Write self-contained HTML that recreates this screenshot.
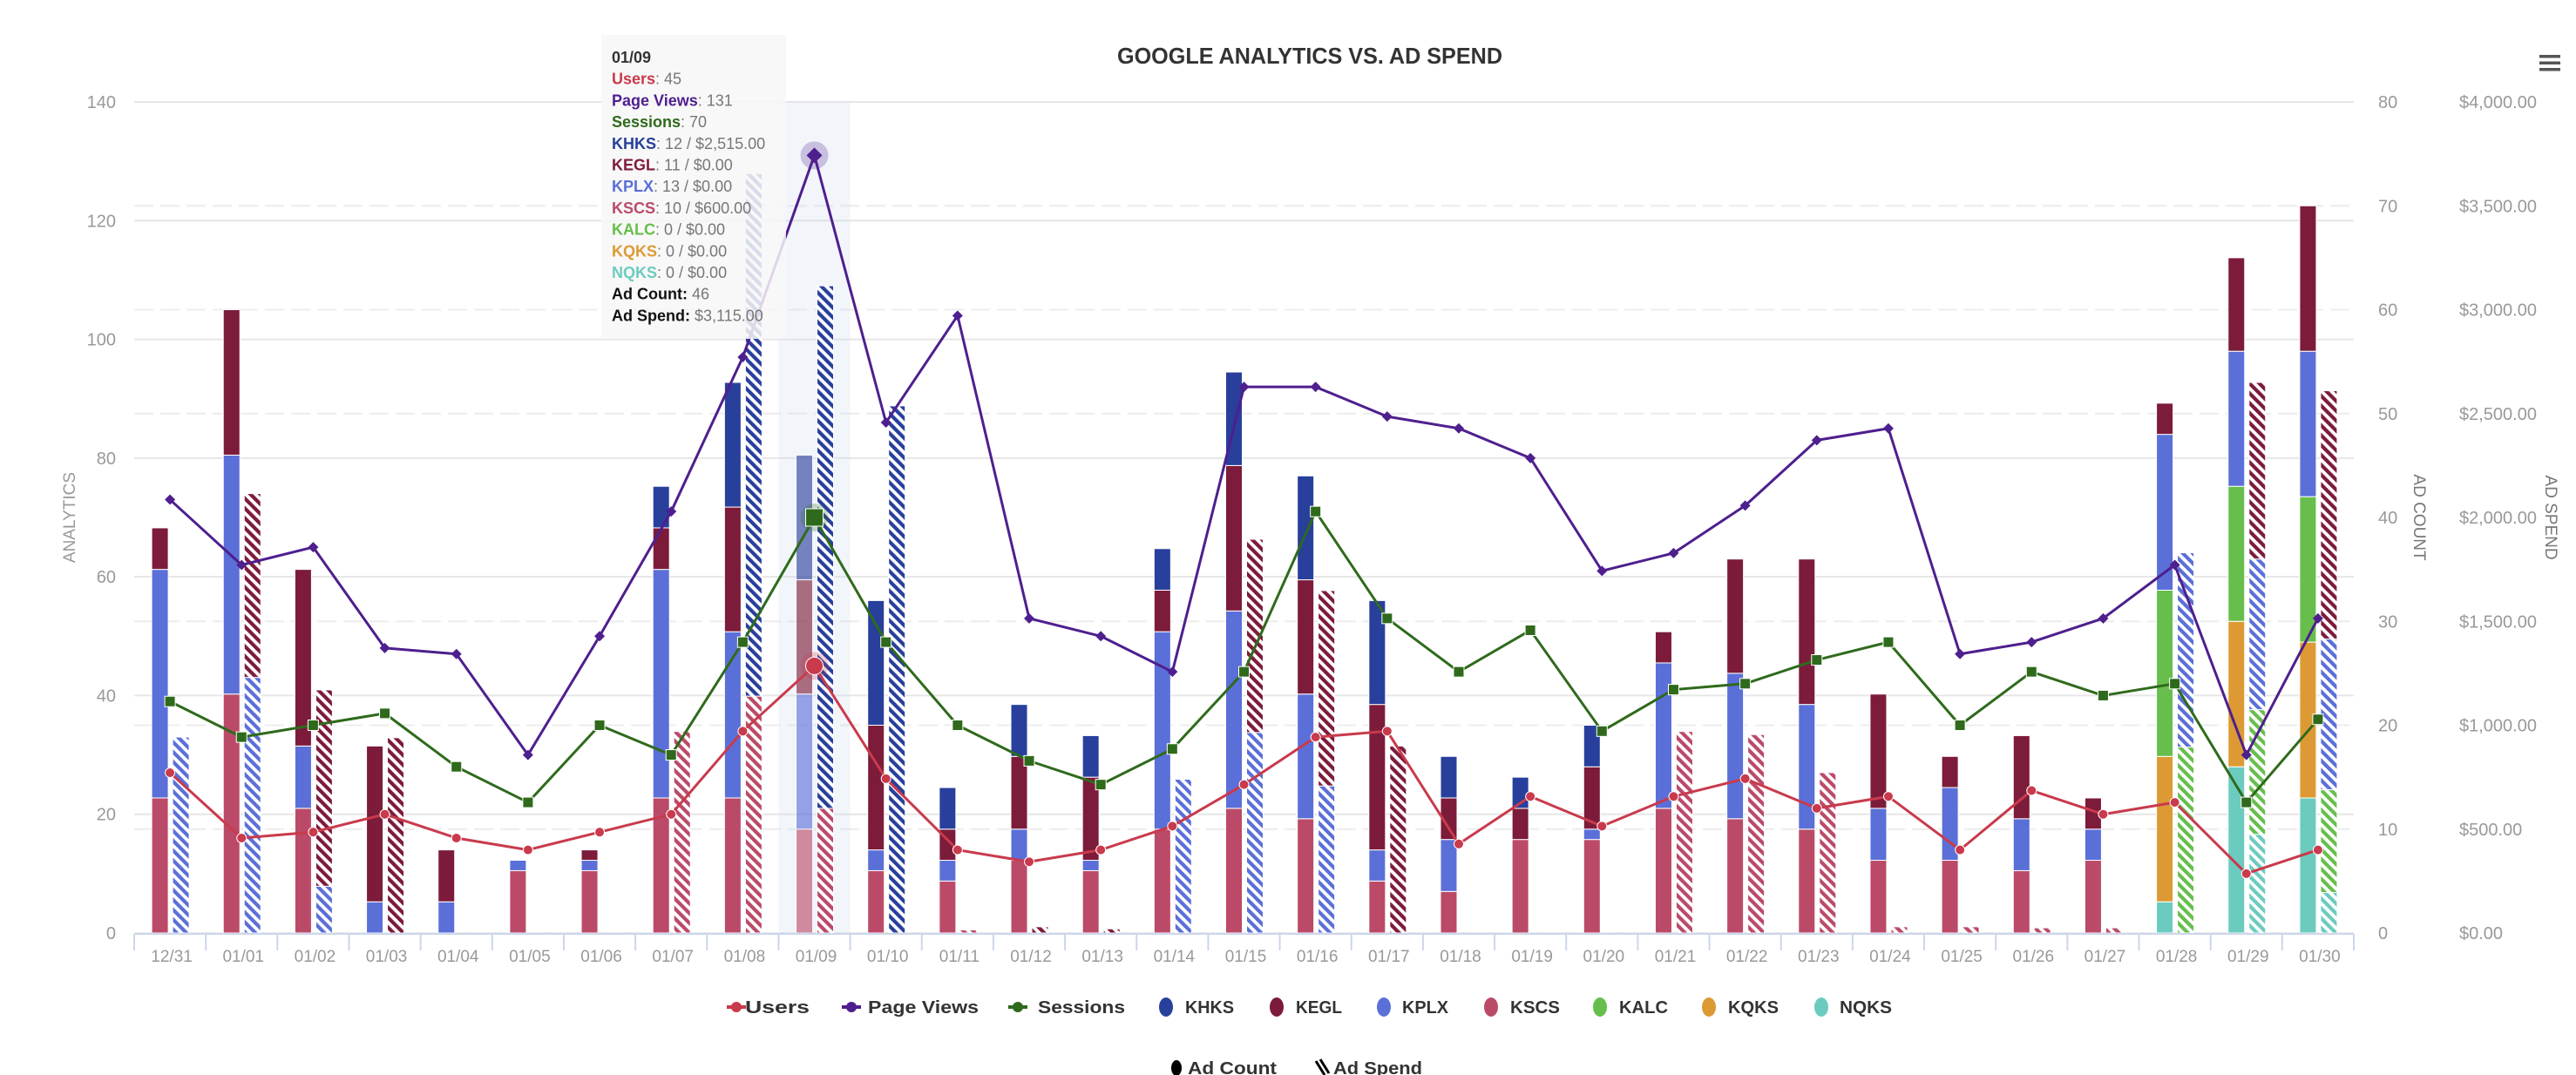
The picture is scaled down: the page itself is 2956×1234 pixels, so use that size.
<!DOCTYPE html>
<html><head><meta charset="utf-8"><title>Google Analytics vs. Ad Spend</title>
<style>
html,body{margin:0;padding:0;background:#fff;}
svg{display:block;font-family:"Liberation Sans",sans-serif;}
</style></head>
<body>
<svg id="chart" width="2956" height="1234" viewBox="0 0 2956 1234" xmlns="http://www.w3.org/2000/svg">
<defs id="defs"></defs>
<rect x="0" y="0" width="2956" height="1234" fill="#fff"/>
<text x="1503" y="73" text-anchor="middle" font-size="26" font-weight="bold" fill="#333" textLength="442" lengthAdjust="spacingAndGlyphs">GOOGLE ANALYTICS VS. AD SPEND</text>
<g fill="#555">
<rect x="2914" y="63" width="24" height="3.5"/><rect x="2914" y="70.5" width="24" height="3.5"/><rect x="2914" y="78" width="24" height="3.5"/>
</g>
<text transform="translate(86,594) rotate(-90)" text-anchor="middle" font-size="19" fill="#999">ANALYTICS</text>
<text transform="translate(2770,594) rotate(90)" text-anchor="middle" font-size="19" fill="#777">AD COUNT</text>
<text transform="translate(2921,594) rotate(90)" text-anchor="middle" font-size="19" fill="#777">AD SPEND</text>
<g id="grid"></g>
<g id="band"></g>
<g id="bars"></g>
<g id="lines"></g>
<g id="axes"></g>
<g id="legend"></g>
<g id="tooltip"></g>
</svg>
<script>
const categories = ['12/31','01/01','01/02','01/03','01/04','01/05','01/06','01/07','01/08','01/09','01/10','01/11','01/12','01/13','01/14','01/15','01/16','01/17','01/18','01/19','01/20','01/21','01/22','01/23','01/24','01/25','01/26','01/27','01/28','01/29','01/30'];
const users = [27,16,17,20,16,14,17,20,34,45,26,14,12,14,18,25,33,34,15,23,18,23,26,21,23,14,24,20,22,10,14];
const pageViews = [73,62,65,48,47,30,50,71,97,131,86,104,53,50,44,92,92,87,85,80,61,64,72,83,85,47,49,53,62,30,53];
const sessions = [39,33,35,37,28,22,35,30,49,70,49,35,29,25,31,44,71,53,44,51,34,41,42,46,49,35,44,40,42,22,36];
const countNQKS = [0,0,0,0,0,0,0,0,0,0,0,0,0,0,0,0,0,0,0,0,0,0,0,0,0,0,0,0,3,16,13];
const countKQKS = [0,0,0,0,0,0,0,0,0,0,0,0,0,0,0,0,0,0,0,0,0,0,0,0,0,0,0,0,14,14,15];
const countKALC = [0,0,0,0,0,0,0,0,0,0,0,0,0,0,0,0,0,0,0,0,0,0,0,0,0,0,0,0,16,13,14];
const countKSCS = [13,23,12,0,0,6,6,13,13,10,6,5,7,6,10,12,11,5,4,9,9,12,11,10,7,7,6,7,0,0,0];
const countKPLX = [22,23,6,3,3,1,1,22,16,13,2,2,3,1,19,19,12,3,5,0,1,14,14,12,5,7,5,3,15,13,14];
const countKEGL = [4,14,17,15,5,0,1,4,12,11,12,3,7,8,4,14,11,14,4,3,6,3,11,14,11,3,8,3,3,9,14];
const countKHKS = [0,0,0,0,0,0,0,4,12,12,12,4,5,4,4,9,10,10,4,3,4,0,0,0,0,0,0,0,0,0,0];
const spendNQKS = [0,0,0,0,0,0,0,0,0,0,0,0,0,0,0,0,0,0,0,0,0,0,0,0,0,0,0,0,0,475,195];
const spendKQKS = [0,0,0,0,0,0,0,0,0,0,0,0,0,0,0,0,0,0,0,0,0,0,0,0,0,0,0,0,0,0,0];
const spendKALC = [0,0,0,0,0,0,0,0,0,0,0,0,0,0,0,0,0,0,0,0,0,0,0,0,0,0,0,0,895,600,495];
const spendKSCS = [0,0,0,0,0,0,0,970,1140,600,0,15,0,0,0,0,0,0,0,0,0,970,955,772,30,30,25,25,0,0,0];
const spendKPLX = [943,1230,225,0,0,0,0,0,0,0,0,0,0,0,740,965,708,0,0,0,0,0,0,0,0,0,0,0,935,725,725];
const spendKEGL = [0,885,945,940,0,0,0,0,0,0,0,0,30,20,0,930,940,900,0,0,0,0,0,0,0,0,0,0,0,850,1195];
const spendKHKS = [0,0,0,0,0,0,0,0,2515,2515,2537,0,0,0,0,0,0,0,0,0,0,0,0,0,0,0,0,0,0,0,0];
const leftTicks = [0,20,40,60,80,100,120,140];
const countTicks = [0,10,20,30,40,50,60,70,80];
const spendTicks = ['$0.00','$500.00','$1,000.00','$1,500.00','$2,000.00','$2,500.00','$3,000.00','$3,500.00','$4,000.00'];

const NS='http://www.w3.org/2000/svg';
const PL=154, PR=2701, PT=117, PB=1071;
const step=(PR-PL)/categories.length;
function xC(i){return PL+step*(i+0.5);}
function yA(v){return PB-v*(PB-PT)/140;}
function yCnt(c){return yA(c*140/80);}
function ySp(s){return yA(s*140/4000);}
function mk(tag,attrs,parent){const e=document.createElementNS(NS,tag);for(const k in attrs)e.setAttribute(k,attrs[k]);if(parent)parent.appendChild(e);return e;}

const stations=[
 {name:'NQKS',color:'#6ccbbf',c:countNQKS,s:spendNQKS},
 {name:'KQKS',color:'#dd9a34',c:countKQKS,s:spendKQKS},
 {name:'KALC',color:'#67be4c',c:countKALC,s:spendKALC},
 {name:'KSCS',color:'#bb4a68',c:countKSCS,s:spendKSCS},
 {name:'KPLX',color:'#5b6fd8',c:countKPLX,s:spendKPLX},
 {name:'KEGL',color:'#7d1b3a',c:countKEGL,s:spendKEGL},
 {name:'KHKS',color:'#283f9c',c:countKHKS,s:spendKHKS}
];
const defs=document.getElementById('defs');
stations.forEach(st=>{
 const p=mk('pattern',{id:'hatch-'+st.name,patternUnits:'userSpaceOnUse',width:8,height:8,patternTransform:'rotate(-45)'},defs);
 mk('rect',{x:0,y:0,width:8,height:8,fill:'#fff'},p);
 mk('rect',{x:0,y:0,width:4.2,height:8,fill:st.color},p);
});

// grid
const grid=document.getElementById('grid');
leftTicks.forEach(v=>{
 const l=mk('line',{x1:PL,x2:PR,y1:yA(v),y2:yA(v),stroke:'#e6e6e6','stroke-width':2},grid);
 
 
});
countTicks.forEach(v=>{
 if(v%40===0&&v>0)return;
 const l=mk('line',{x1:PL,x2:PR,y1:yCnt(v),y2:yCnt(v),stroke:'#ececec','stroke-width':2,'stroke-dasharray':'22,8'},grid);
 
 
});

// hover band
const hb=mk('rect',{x:PL+step*9,y:PT,width:step,height:PB-PT,fill:'#ccd6eb','fill-opacity':0.25},document.getElementById('band'));



// bars
const bars=document.getElementById('bars');
const BW=19;
categories.forEach((cat,i)=>{
 let base=0, sbase=0;
 const xc=xC(i);
 stations.forEach(st=>{
  const v=st.c[i];
  if(v>0){
   const y1=yCnt(base+v), y0=yCnt(base);
   const r=mk('rect',{x:xc-21,y:y1,width:BW,height:y0-y1,fill:st.color,stroke:'#fff','stroke-width':1,opacity:(i===9?0.62:1)},bars);
   
   
   base+=v;
  }
  const s=st.s[i];
  if(s>0){
   const y1=ySp(sbase+s), y0=ySp(sbase);
   const r=mk('rect',{x:xc+3,y:y1,width:BW,height:y0-y1,fill:'url(#hatch-'+st.name+')',stroke:'#fff','stroke-width':1},bars);
   
   
   sbase+=s;
  }
 });
});

// lines
const lines=document.getElementById('lines');
function series(vals,color,shape,name){
 const pts=vals.map((v,i)=>[xC(i),yA(v)]);
 const pl=mk('polyline',{points:pts.map(p=>p.join(',')).join(' '),fill:'none',stroke:color,'stroke-width':3,'stroke-linejoin':'round'},lines);
 
 
 pts.forEach((p,i)=>{
  const big=(i===9);
  let m;
  if(big){
   const h=mk('circle',{cx:p[0],cy:p[1],r:16,fill:color,'fill-opacity':0.25},lines);
   
   
  }
  if(shape==='circle'){m=mk('circle',{cx:p[0],cy:p[1],r:big?10:5.5,fill:color,stroke:'#fff','stroke-width':1},lines);}
  else if(shape==='square'){const s=big?20:12;m=mk('rect',{x:p[0]-s/2,y:p[1]-s/2,width:s,height:s,fill:color,stroke:'#fff','stroke-width':1},lines);}
  else {const s=big?9:6;m=mk('polygon',{points:`${p[0]},${p[1]-s} ${p[0]+s},${p[1]} ${p[0]},${p[1]+s} ${p[0]-s},${p[1]}`,fill:color},lines);}
  
  
 });
}
series(sessions,'#2f6a1c','square','sessions');
series(pageViews,'#4e1f8e','diamond','page-views');
series(users,'#c93a4c','circle','users');

// axes
const axes=document.getElementById('axes');
const xl=mk('line',{x1:PL,x2:PR,y1:PB+1,y2:PB+1,stroke:'#ccd6eb','stroke-width':2},axes);


for(let i=0;i<=categories.length;i++){
 const t=mk('line',{x1:PL+step*i,x2:PL+step*i,y1:PB+1,y2:PB+20,stroke:'#ccd6eb','stroke-width':2},axes);
 
 
}
categories.forEach((c,i)=>{
 const t=mk('text',{x:xC(i)+2,y:PB+33,'text-anchor':'middle','font-size':19,fill:'#999'},axes);
 t.textContent=c;
 
 
});
leftTicks.forEach(v=>{
 const t=mk('text',{x:133,y:yA(v)+7,'text-anchor':'end','font-size':20,fill:'#999'},axes);
 t.textContent=v;
 
 
});
countTicks.forEach(v=>{
 const t=mk('text',{x:2729,y:yCnt(v)+7,'text-anchor':'start','font-size':20,fill:'#999'},axes);
 t.textContent=v;
 
 
});
spendTicks.forEach((v,i)=>{
 const t=mk('text',{x:2822,y:yCnt(i*10)+7,'text-anchor':'start','font-size':20,fill:'#999'},axes);
 t.textContent=v;
 
 
});

// legend
const lg=document.getElementById('legend');
const legendItems=[
 {label:'Users',color:'#c93a4c',type:'line',mx:845,tx:855,w:74},
 {label:'Page Views',color:'#4e1f8e',type:'line',mx:977,tx:996,w:127},
 {label:'Sessions',color:'#2f6a1c',type:'line',mx:1168,tx:1191,w:100},
 {label:'KHKS',color:'#283f9c',type:'dot',mx:1338,tx:1360,w:56},
 {label:'KEGL',color:'#7d1b3a',type:'dot',mx:1465,tx:1487,w:53},
 {label:'KPLX',color:'#5b6fd8',type:'dot',mx:1588,tx:1609,w:53},
 {label:'KSCS',color:'#bb4a68',type:'dot',mx:1711,tx:1733,w:57},
 {label:'KALC',color:'#67be4c',type:'dot',mx:1836,tx:1858,w:56},
 {label:'KQKS',color:'#dd9a34',type:'dot',mx:1961,tx:1983,w:58},
 {label:'NQKS',color:'#6ccbbf',type:'dot',mx:2090,tx:2111,w:60},
 {label:'Ad Count',color:'#000',type:'dot',mx:1350,tx:1363,w:102,row:2},
 {label:'Ad Spend',color:'#000',type:'hatch',mx:1518,tx:1530,w:102,row:2}
];
legendItems.forEach(it=>{
 const y=it.row===2?1226:1156;
 const g=mk('g',{},lg);
 
 
 if(it.type==='line'){
  mk('line',{x1:it.mx-11,x2:it.mx+11,y1:y,y2:y,stroke:it.color,'stroke-width':4},g);
  mk('circle',{cx:it.mx,cy:y,r:6,fill:it.color},g);
 } else if(it.type==='dot'){
  mk('ellipse',{cx:it.mx,cy:y,rx:(it.row===2?6:8),ry:(it.row===2?9:11),fill:it.color},g);
 } else {
  mk('path',{d:`M${it.mx-8},${y-8} L${it.mx+2},${y+8} M${it.mx-3},${y-10} L${it.mx+7},${y+6}`,stroke:'#000','stroke-width':3,fill:'none'},g);
 }
 const t=mk('text',{x:it.tx,y:y+7,'font-size':20,'font-weight':'bold',fill:'#333',textLength:it.w,lengthAdjust:'spacingAndGlyphs'},g);
 t.textContent=it.label;
});

// tooltip
const tt=document.getElementById('tooltip');


mk('rect',{x:690,y:40,width:212,height:349,fill:'#f7f7f7','fill-opacity':0.85},tt);
const ttLines=[
 ['01/09','#333',''],
 ['Users','#c93a4c',': 45'],
 ['Page Views','#4e1f8e',': 131'],
 ['Sessions','#2f6a1c',': 70'],
 ['KHKS','#283f9c',': 12 / $2,515.00'],
 ['KEGL','#7d1b3a',': 11 / $0.00'],
 ['KPLX','#5b6fd8',': 13 / $0.00'],
 ['KSCS','#bb4a68',': 10 / $600.00'],
 ['KALC','#67be4c',': 0 / $0.00'],
 ['KQKS','#dd9a34',': 0 / $0.00'],
 ['NQKS','#6ccbbf',': 0 / $0.00'],
 ['Ad Count:','#111',' 46'],
 ['Ad Spend:','#111',' $3,115.00']
];
ttLines.forEach((l,i)=>{
 const t=mk('text',{x:702,y:72+i*24.7,'font-size':18},tt);
 const a=mk('tspan',{'font-weight':'bold',fill:l[1]},t);a.textContent=l[0];
 if(l[2]){const b=mk('tspan',{fill:'#777'},t);b.textContent=l[2];}
});
</script>
</body></html>
